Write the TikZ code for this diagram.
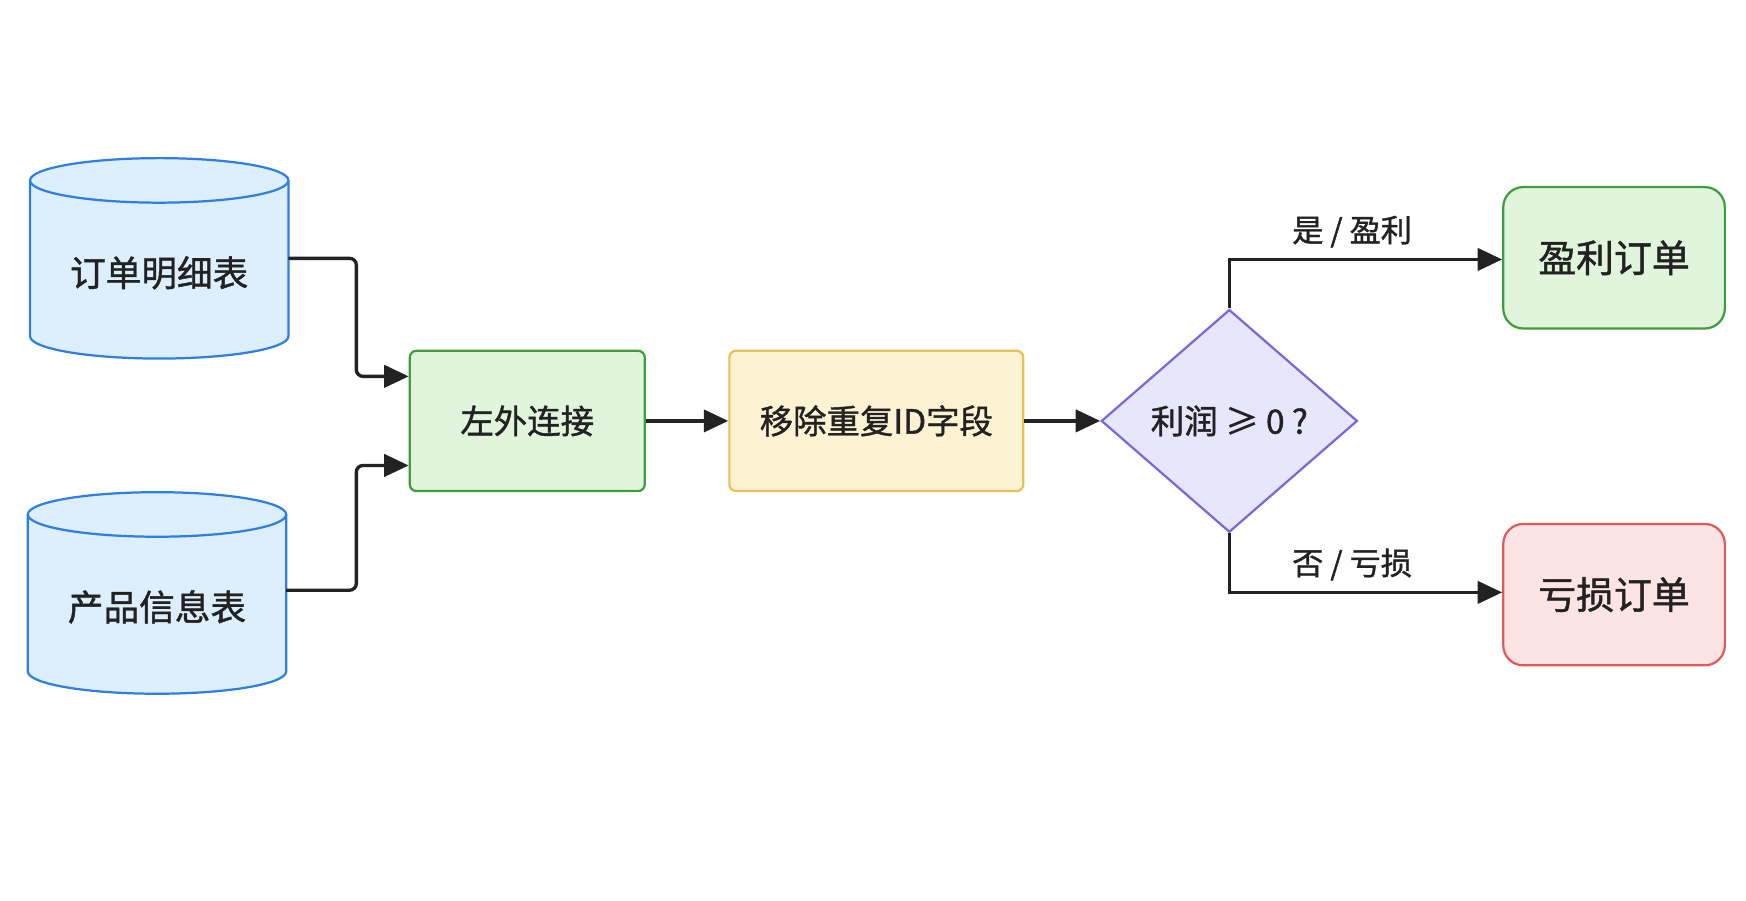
\documentclass[tikz,border=0pt]{standalone}
\usepackage{fontspec}
\setmainfont{Noto Sans CJK SC}[FakeBold=1.2]
\usetikzlibrary{shapes.geometric,arrows.meta}
\definecolor{cylf}{HTML}{DDEEFC}\definecolor{cyld}{HTML}{2F7FE0}
\definecolor{gf}{HTML}{E0F5DC}\definecolor{gd}{HTML}{3E9E3E}
\definecolor{yf}{HTML}{FDF3D3}\definecolor{yd}{HTML}{E6C25A}
\definecolor{pf}{HTML}{E8E6FB}\definecolor{pd}{HTML}{7B68D8}
\definecolor{rf}{HTML}{FDE4E4}\definecolor{rd}{HTML}{E05A5A}
\definecolor{ink}{HTML}{222222}
\begin{document}
\begin{tikzpicture}[x=1pt,y=-1pt,
  box/.style={draw,line width=2pt,rounded corners=6pt,minimum width=211pt,minimum height=126pt,font=\fontsize{30}{32}\selectfont,text=ink},
  endbox/.style={box,rounded corners=18pt,minimum width=199pt,minimum height=127pt,font=\fontsize{34}{36}\selectfont},
  arr/.style={draw=ink,line width=3pt,-{Triangle[length=22pt,width=20pt]},rounded corners=6pt},
  lab/.style={font=\fontsize{28}{30}\selectfont,text=ink},
  txt/.style={font=\fontsize{32}{34}\selectfont,text=ink}]
\useasboundingbox (0,0) rectangle (1568,809);
% cylinders
\foreach \n/\cx/\ty/\by/\t in {c1/143/162/302/订单明细表, c2/141/462/603/产品信息表}{
  \fill[cylf] (\cx-116,\ty) -- (\cx-116,\by) arc[start angle=180,end angle=0,x radius=116,y radius=20] -- (\cx+116,\ty) arc[start angle=0,end angle=-180,x radius=116,y radius=20];
  \draw[cyld,line width=2pt] (\cx-116,\ty) -- (\cx-116,\by) arc[start angle=180,end angle=0,x radius=116,y radius=20] -- (\cx+116,\ty);
  \draw[cyld,line width=2pt] (\cx,\ty) ellipse[x radius=116,y radius=20];
  \node[txt] (\n) at (\cx,\ty+83) {\t};
}
\coordinate (c1e) at (259,232);
\coordinate (c2e) at (257,530);
\node[box,fill=gf,draw=gd] (join) at (473.5,378) {左外连接};
\node[box,fill=yf,draw=yd,minimum width=264pt] (rm) at (787,378) {移除重复ID字段};
\node[diamond,draw=pd,fill=pf,line width=2pt,minimum width=230pt,minimum height=200pt,aspect=1.15,inner sep=0pt,font=\fontsize{30}{32}\selectfont,text=ink] (dec) at (1104,378) {利润 ≥ 0 ?};
\node[endbox,fill=gf,draw=gd] (win) at (1449.5,231.5) {盈利订单};
\node[endbox,fill=rf,draw=rd] (loss) at (1449.5,534) {亏损订单};
\draw[arr] (c1e) -- (320,232) -- (320,338) -- (join.west |- 0,338);
\draw[arr] (c2e) -- (320,530) -- (320,418) -- (join.west |- 0,418);
\draw[arr,rounded corners=0pt] (join) -- (rm);
\draw[arr,rounded corners=0pt] (rm) -- (dec);
\draw[arr,rounded corners=0pt] (dec.north) -- (1104,233) -- (win.west |- 0,233) node[lab,pos=0.45,above=6pt]{是 / 盈利};
\draw[arr,rounded corners=0pt] (dec.south) -- (1104,532) -- (loss.west |- 0,532) node[lab,pos=0.45,above=6pt]{否 / 亏损};
\end{tikzpicture}
\end{document}
